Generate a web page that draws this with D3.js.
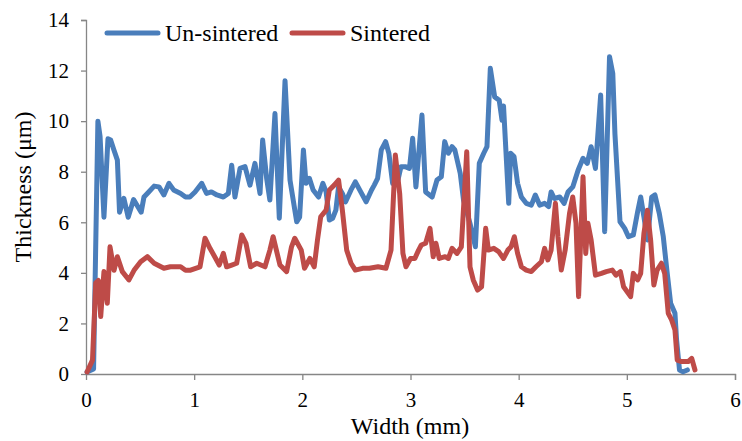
<!DOCTYPE html>
<html><head><meta charset="utf-8">
<script src="https://cdn.jsdelivr.net/npm/d3@7/dist/d3.min.js"></script>
<style>body{margin:0;background:#fff}svg{display:block}</style>
</head><body><svg id="c" width="742" height="441"></svg>
<script>
const seriesNames = ["Un-sintered", "Sintered"];
const seriesColors = ["#4a7ebb", "#be4b48"];
const xTicks = [0,1,2,3,4,5,6];
const yTicks = [0,2,4,6,8,10,12,14];
const unsinteredX = [0.01,0.07,0.11,0.13,0.166,0.203,0.228,0.259,0.29,0.31,0.35,0.39,0.44,0.51,0.536,0.58,0.63,0.675,0.72,0.767,0.81,0.875,0.92,0.96,1.008,1.07,1.115,1.16,1.21,1.27,1.316,1.347,1.377,1.424,1.47,1.516,1.562,1.609,1.633,1.67,1.70,1.747,1.787,1.84,1.886,1.948,1.975,2.01,2.034,2.065,2.10,2.15,2.19,2.22,2.25,2.28,2.31,2.335,2.37,2.40,2.45,2.49,2.54,2.59,2.64,2.665,2.696,2.73,2.77,2.80,2.835,2.88,2.912,2.95,2.99,3.02,3.05,3.106,3.14,3.20,3.245,3.285,3.316,3.35,3.384,3.41,3.46,3.49,3.55,3.60,3.636,3.677,3.707,3.738,3.778,3.82,3.846,3.86,3.908,3.926,3.957,3.99,4.025,4.07,4.117,4.154,4.194,4.24,4.277,4.30,4.33,4.38,4.42,4.456,4.50,4.55,4.595,4.634,4.67,4.71,4.758,4.795,4.84,4.87,4.89,4.937,4.98,5.015,5.06,5.10,5.128,5.158,5.19,5.23,5.26,5.30,5.337,5.37,5.405,5.445,5.46,5.487,5.52,5.56];
const unsinteredY = [0.08,0.2,10.0,9.4,6.2,9.3,9.25,8.85,8.46,6.4,6.95,6.2,6.9,6.4,7.0,7.2,7.43,7.4,7.08,7.54,7.28,7.14,7.0,7.0,7.2,7.54,7.14,7.2,7.08,7.0,7.14,8.26,7.0,8.13,8.2,7.47,8.33,7.14,9.25,7.74,6.88,10.3,6.16,11.6,7.67,6.02,6.2,8.86,7.54,7.74,7.28,7.0,7.54,7.2,6.09,6.16,6.48,7.4,7.14,6.81,7.28,7.6,7.2,6.81,7.28,7.47,7.74,8.86,9.19,8.73,7.54,7.6,8.2,8.2,8.13,9.32,7.4,10.24,7.2,7.0,7.67,7.8,9.19,8.73,8.99,8.86,7.93,6.88,5.96,5.03,8.33,8.73,8.99,12.09,10.96,10.83,10.04,10.6,6.75,8.73,8.6,7.54,7.0,6.75,6.68,7.08,6.68,6.75,6.62,7.2,6.94,7.0,6.75,7.2,7.4,8.07,8.53,8.33,8.99,8.13,11.03,5.63,12.55,11.89,9.5,6.02,5.76,5.43,5.5,6.42,7.0,6.22,5.3,7.0,7.08,6.35,5.43,4.11,2.8,2.4,1.34,0.16,0.09,0.16];
const sinteredX = [0.01,0.06,0.09,0.114,0.136,0.166,0.197,0.222,0.259,0.29,0.336,0.397,0.444,0.505,0.567,0.63,0.72,0.78,0.875,0.92,0.96,1.054,1.10,1.146,1.19,1.232,1.27,1.30,1.347,1.393,1.44,1.479,1.522,1.578,1.655,1.70,1.73,1.793,1.855,1.90,1.93,1.99,2.02,2.07,2.11,2.14,2.17,2.22,2.25,2.295,2.335,2.37,2.41,2.45,2.49,2.557,2.62,2.70,2.773,2.82,2.86,2.90,2.93,2.958,3.0,3.04,3.075,3.10,3.14,3.18,3.21,3.235,3.266,3.32,3.35,3.384,3.43,3.47,3.50,3.52,3.55,3.58,3.62,3.657,3.695,3.72,3.77,3.815,3.86,3.90,3.93,3.96,3.99,4.025,4.07,4.117,4.16,4.21,4.24,4.27,4.30,4.34,4.363,4.394,4.43,4.47,4.50,4.53,4.554,4.595,4.62,4.64,4.67,4.71,4.765,4.81,4.865,4.90,4.94,4.97,5.035,5.06,5.10,5.128,5.158,5.19,5.22,5.25,5.28,5.32,5.35,5.383,5.414,5.445,5.466,5.506,5.567,5.60,5.63];
const sinteredY = [0.08,0.55,3.6,3.7,2.27,4.05,2.8,5.03,4.1,4.64,4.05,3.72,4.1,4.44,4.64,4.38,4.18,4.24,4.24,4.1,4.1,4.24,5.37,4.97,4.64,4.31,4.77,4.24,4.31,4.38,5.5,5.17,4.24,4.38,4.24,4.9,5.43,4.31,4.05,5.03,5.37,4.9,4.18,4.57,4.24,5.3,6.22,6.48,7.28,7.47,7.67,6.48,4.9,4.38,4.11,4.18,4.18,4.24,4.18,4.9,8.66,7.14,4.77,4.24,4.57,4.57,4.9,5.1,5.17,5.76,4.64,5.17,4.57,4.64,4.57,4.97,4.77,5.03,7.28,8.79,4.24,3.72,3.32,3.45,5.76,4.9,4.97,4.84,4.57,4.9,5.03,5.43,4.77,4.24,4.11,4.05,4.24,4.44,4.97,4.51,4.9,6.75,5.43,4.11,4.9,6.35,7.0,5.96,3.06,7.8,4.77,5.96,5.3,3.91,3.98,4.05,4.11,3.91,4.05,3.45,3.06,3.98,3.72,3.98,5.56,6.48,5.3,3.52,4.11,4.38,3.98,2.4,2.14,1.74,0.55,0.49,0.49,0.62,0.16];

const FONT = "'Liberation Serif', Tinos, 'Times New Roman', Times, serif";
const svg = d3.select("#c").attr("font-family", FONT);
const x = d3.scaleLinear().domain([0,6]).range([86,735]);
const y = d3.scaleLinear().domain([0,14]).range([374,20]);
const axisColor = "#868686";

const xa = svg.append("g").attr("transform","translate(0,374)")
  .call(d3.axisBottom(x).tickValues(xTicks).tickSize(6).tickPadding(12).tickFormat(d3.format("d")));
const ya = svg.append("g").attr("transform","translate(86,0)")
  .call(d3.axisLeft(y).tickValues(yTicks).tickSize(5).tickPadding(12).tickFormat(d3.format("d")));
[xa,ya].forEach(g=>{
  g.attr("font-family", FONT).attr("font-size", 21);
  g.selectAll("path,line").attr("stroke",axisColor).attr("stroke-width",1.3);
  g.selectAll("text").attr("fill","#000");
});
ya.select(".domain").attr("d","M-5,20.5H0.5V374");
xa.select(".domain").attr("d","M86,0.5H735.5V6");

const line = d3.line().x(d=>x(d[0])).y(d=>y(d[1])).curve(d3.curveLinear);
const data = [d3.zip(unsinteredX,unsinteredY), d3.zip(sinteredX,sinteredY)];
data.forEach((pts,i)=>{
  svg.append("path").datum(pts).attr("d",line).attr("fill","none")
    .attr("stroke",seriesColors[i]).attr("stroke-width",5)
    .attr("stroke-linejoin","round").attr("stroke-linecap","round");
});

svg.append("text").attr("x",410).attr("y",434).attr("text-anchor","middle")
  .attr("font-size",24).text("Width (mm)");
svg.append("text").attr("transform","translate(31,187) rotate(-90)").attr("text-anchor","middle")
  .attr("font-size",24).text("Thickness (μm)");

const leg = [[107,165],[292,350]];
leg.forEach((p,i)=>{
  svg.append("line").attr("x1",p[0]).attr("x2",p[0]+51).attr("y1",33).attr("y2",33)
    .attr("stroke",seriesColors[i]).attr("stroke-width",5).attr("stroke-linecap","round");
  svg.append("text").attr("x",p[1]).attr("y",41).attr("font-size",24).text(seriesNames[i]);
});
</script></body></html>
